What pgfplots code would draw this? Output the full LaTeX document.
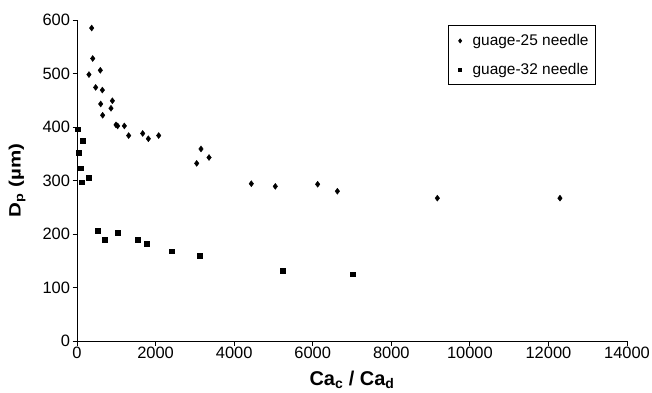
\documentclass[border=0pt]{standalone}
\usepackage{graphicx}
\usepackage{pgfplots}
\pgfplotsset{compat=1.18}
\usepackage{fontspec}
\setmainfont{Liberation Sans}
\begin{document}
\begin{tikzpicture}[x=1bp,y=1bp]
\path[use as bounding box] (0,0) rectangle (652,392);
\begin{axis}[
  at={(77bp,51bp)}, anchor=origin,
  scale only axis, width=550bp, height=321bp,
  xmin=0, xmax=14000, ymin=0, ymax=600,
  xtick={0,2000,...,14000}, ytick={0,100,...,600},
  axis x line*=bottom, axis y line*=left,
  axis line style={line width=0.9pt, -},
  tick align=outside, tick style={black, line width=0.8pt}, major tick length=4.5bp,
  scaled x ticks=false,
  /pgf/number format/assume math mode=true,
  /pgf/number format/1000 sep={},
  tick label style={font=\fontsize{16.5}{16.5}\selectfont},
  xticklabel style={yshift=2bp},
  yticklabel style={xshift=1bp},
  xlabel={\textbf{Ca\textsubscript{c} / Ca\textsubscript{d}}},
  ylabel={\scalebox{1.25}[1]{\textbf{D\textsubscript{p} (µm)}}},
  xlabel style={font=\fontsize{20}{20}\selectfont, at={(rel axis cs:0.5,-0.12)}, anchor=center},
  ylabel style={font=\fontsize{16.5}{17}\selectfont, at={(rel axis cs:-0.109,0.5)}, anchor=center},
  clip=false,
  legend style={at={(rel axis cs:0.675,0.984)}, anchor=north west, draw=black, line width=0.8pt,
    font=\fontsize{15.5}{16}\selectfont, inner xsep=5bp, inner ysep=7bp, row sep=12bp,
    legend cell align=left},
  legend image code/.code={\path[draw=none,fill=none] (0,0) -- (17bp,0); \draw[#1, scale=0.65, draw=black] plot coordinates {(10bp,0bp)};},
]
\addplot[only marks, mark=diamond*, mark size=3bp, mark options={fill=black, draw=black}] coordinates {
(374,585) (400,528) (305,498) (594,506) (475,474) (645,469) (603,443) (900,449)
(865,435) (653,422) (993,404) (1035,402) (1205,402) (1315,384) (1672,388) (1816,378)
(2079,384) (3046,332) (3156,359) (3360,343) (4437,294) (5048,289) (6126,293)
(6627,280) (9172,267) (12293,267)
};
\addlegendentry{guage-25 needle}
\addplot[only marks, mark=square*, mark size=2.4bp, mark options={fill=black, draw=black}] coordinates {
(25,396) (136,374) (51,352) (85,323) (119,297) (297,305)
(527,206) (695,189) (1044,202) (1554,189) (1774,182) (2403,168) (3133,159)
(5230,131) (7015,125)
};
\addlegendentry{guage-32 needle}
\end{axis}
\end{tikzpicture}
\end{document}
